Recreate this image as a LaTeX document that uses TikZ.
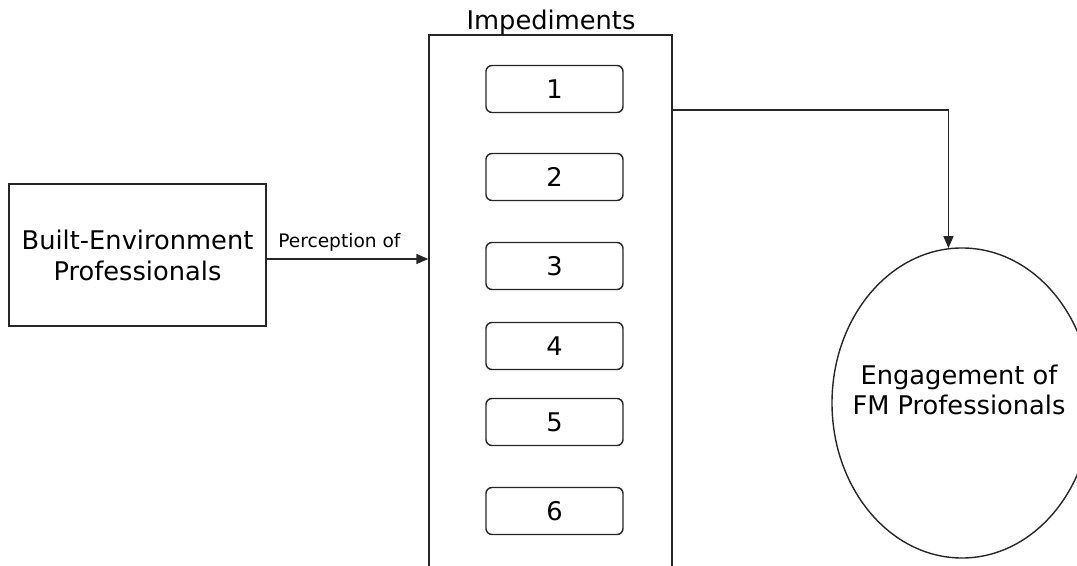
\documentclass[tikz,border=0pt]{standalone}
\usepackage{fontspec}
\setmainfont{DejaVu Sans}
\usepackage{tikz}
\usetikzlibrary{arrows.meta}
\usetikzlibrary{shapes}

\begin{document}
\begin{tikzpicture}[x=0.5pt, y=-0.5pt, line width=0.7pt,
        box_style/.style={rectangle,draw=black!85,minimum width=128.5pt,minimum height=71pt,inner sep=0pt,align=center,font=\fontsize{12.85}{15.5}\selectfont},
        frame_style/.style={rectangle,draw=black!85,minimum width=121.5pt,minimum height=290pt,inner sep=0pt},
        item_style/.style={rectangle,rounded corners=3pt,draw=black!85,minimum width=68.5pt,minimum height=23.5pt,inner sep=0pt,font=\fontsize{12.85}{15}\selectfont},
        ellipse_style/.style={ellipse,draw=black!85,minimum width=130pt,minimum height=155pt,inner sep=0pt},
        text_style/.style={align=center,inner sep=0pt,font=\fontsize{12.85}{15}\selectfont},
        label_style/.style={font=\fontsize{9.3}{11}\selectfont},
        edge_style/.style={draw=black!85,-{Triangle[length=6pt,width=5pt]}}]

        \clip (0,0) rectangle (1077,566);

        \node [box_style](bep) at (137.5,255) {Built-Environment\\Professionals};

        \node [frame_style](imp) at (550.5,325) {};

        \node [text_style](imp_title) at (551,22) {Impediments};

        \foreach \n/\y in {1/89,2/177,3/266,4/346,5/422,6/511}
            \node [item_style](item\n) at (554.5,\y) {\n};

        \node [ellipse_style](eng) at (962,403) {};

        \node [text_style](eng_text) at (959,390) {Engagement of\\FM Professionals};

        \coordinate (p_in) at ([yshift=-2pt]bep.east);

        \coordinate (p_out) at (imp.north east |- 0,110);

        \draw [edge_style] (p_in) -- node[above,pos=0.45,label_style]{Perception of} (p_in -| imp.west);

        \draw [edge_style] (p_out) -| (eng.95);

\end{tikzpicture}
\end{document}
